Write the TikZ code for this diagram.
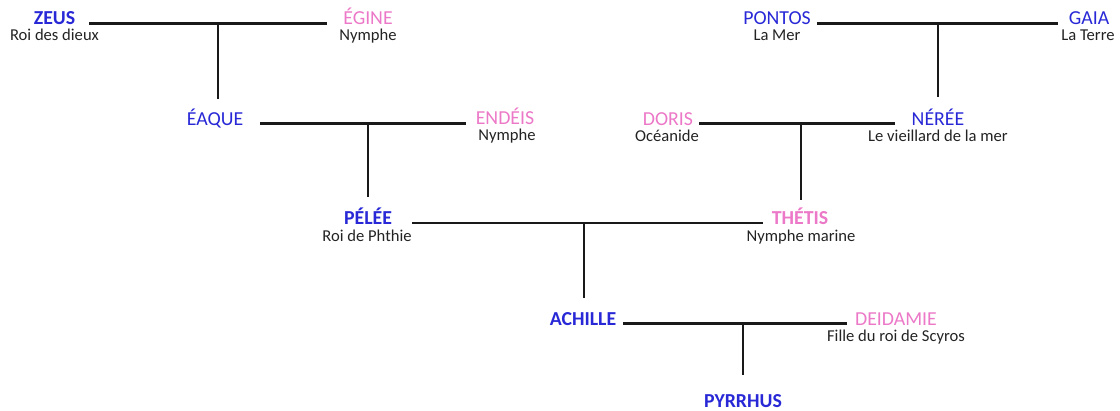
\documentclass[tikz,border=0pt]{standalone}
\usepackage{fontspec}
\setmainfont{Carlito}
\usetikzlibrary{calc}
\definecolor{mblue}{RGB}{40,40,215}
\definecolor{mpink}{RGB}{236,120,200}
\definecolor{mgray}{RGB}{35,35,35}
\begin{document}
\begin{tikzpicture}[x=1pt,y=1pt,
  nm/.style={anchor=base, inner sep=0pt, font=\fontsize{19.8}{21}\selectfont},
  male/.style={nm, text=mblue},
  fem/.style={nm, text=mpink},
  bnm/.style={font=\fontsize{19.8}{21}\selectfont\bfseries},
  sub/.style={anchor=base, inner sep=0pt, text=mgray, font=\fontsize{16.6}{18}\selectfont},
  conn/.style={line width=2.2pt, draw=black!90}]
\useasboundingbox (0,0) rectangle (1120,411);

% row 1
\node[male,bnm] (zeus) at (54.5,386) {ZEUS};
\node[sub] (zeuss) at (54.5,370) {Roi des dieux};
\node[fem] (egine) at (368,386) {ÉGINE};
\node[sub] (egines) at (368,370) {Nymphe};
\node[male] (pontos) at (777,386) {PONTOS};
\node[sub] (pontoss) at (777,370) {La Mer};
\node[male] (gaia) at (1089,386) {GAIA};
\node[sub] (gaias) at (1088,370) {La Terre};
% row 2
\node[male] (eaque) at (215,285) {ÉAQUE};
\node[fem] (endeis) at (505,286) {ENDÉIS};
\node[sub] (endeiss) at (507,270) {Nymphe};
\node[fem] (doris) at (668,285) {DORIS};
\node[sub] (doriss) at (667,269) {Océanide};
\node[male] (neree) at (938,285) {NÉRÉE};
\node[sub] (nerees) at (938,269) {Le vieillard de la mer};
% row 3
\node[male,bnm] (pelee) at (368,186) {PÉLÉE};
\node[sub] (pelees) at (367,169) {Roi de Phthie};
\node[fem,bnm] (thetis) at (800,186) {THÉTIS};
\node[sub] (thetiss) at (801,169) {Nymphe marine};
% row 4
\node[male,bnm] (achille) at (583,85) {ACHILLE};
\node[fem] (deidamie) at (896,85) {DEIDAMIE};
\node[sub] (deidamies) at (896,69) {Fille du roi de Scyros};
% row 5
\node[male,bnm] (pyrrhus) at (743,3) {PYRRHUS};

% unions
\draw[conn, shorten <=14pt, shorten >=16pt] ($(zeus.base east)+(0,1.5)$) -- ($(egine.base west)+(0,1.5)$);
\draw[conn, shorten <=6pt, shorten >=11pt] ($(pontos.base east)+(0,1.5)$) -- ($(gaia.base west)+(0,1.5)$);
\draw[conn, shorten <=17pt, shorten >=10pt] ($(eaque.base east)+(0,2.5)$) -- ($(endeis.base west)+(0,1.5)$);
\draw[conn, shorten <=6pt, shorten >=17pt] ($(doris.base east)+(0,2.5)$) -- ($(neree.base west)+(0,2.5)$);
\draw[conn, shorten <=20pt, shorten >=9pt] ($(pelee.base east)+(0,2)$) -- ($(thetis.base west)+(0,2)$);
\draw[conn, shorten <=7pt, shorten >=8pt] ($(achille.base east)+(0,2.5)$) -- ($(deidamie.base west)+(0,2.5)$);

% descent
\draw[conn] ($(eaque.base |- zeus.base)+(3,1.5)$) -- ($(eaque.base)+(3,27)$);
\draw[conn] ($(neree.base |- pontos.base)+(0,1.5)$) -- ($(neree.base)+(0,29)$);
\draw[conn] ($(pelee.base |- eaque.base)+(0,3)$) -- ($(pelee.base)+(0,28)$);
\draw[conn] ($(thetis.base |- doris.base)+(1,3)$) -- ($(thetis.base)+(1,25)$);
\draw[conn] ($(achille.base |- pelee.base)+(1,2)$) -- ($(achille.base)+(1,28)$);
\draw[conn] ($(pyrrhus.base |- achille.base)+(0,2.5)$) -- ($(pyrrhus.base)+(0,33)$);
\end{tikzpicture}
\end{document}
